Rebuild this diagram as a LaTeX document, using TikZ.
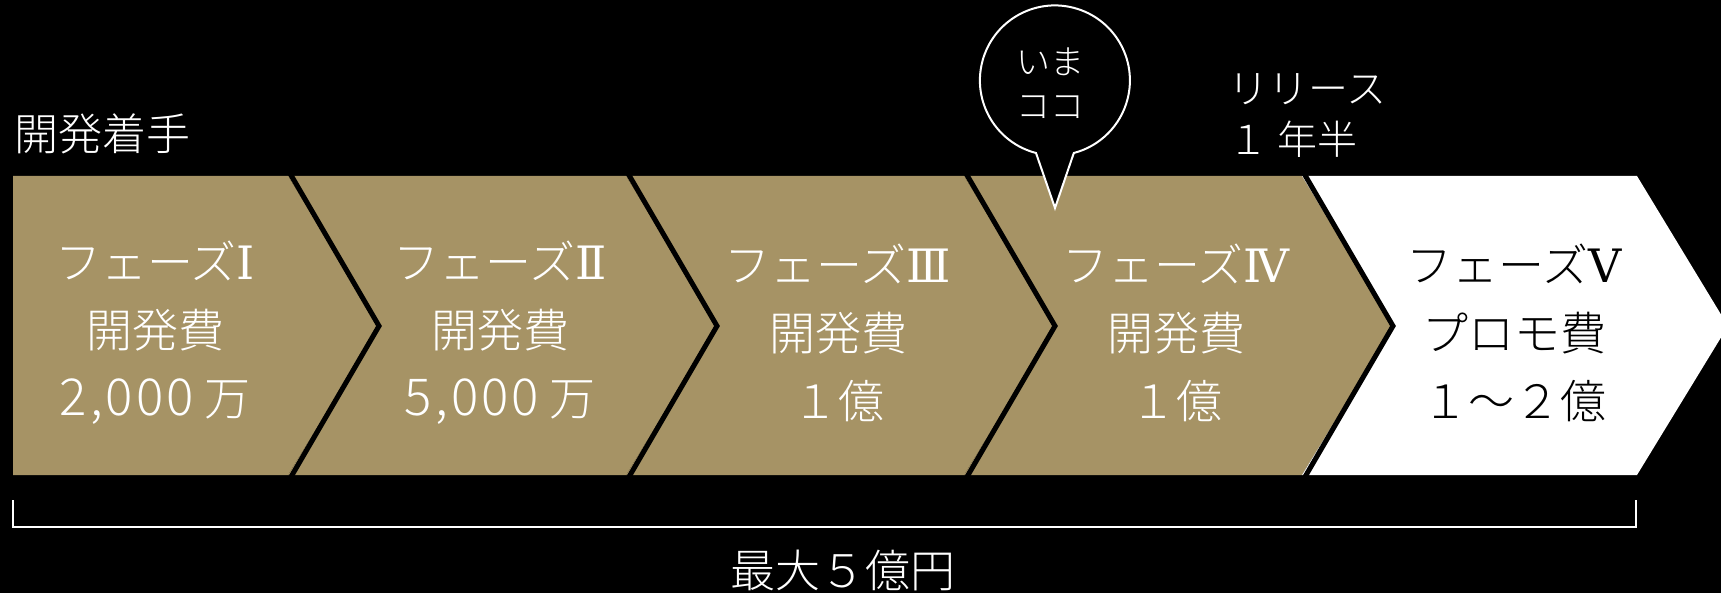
\documentclass[tikz,border=0pt]{standalone}
\usepackage{fontspec}
\IfFontExistsTF{Noto Sans CJK JP Light}{\setmainfont{Noto Sans CJK JP Light}}{\setmainfont{Noto Sans CJK JP}}
\newfontfamily\romfont{DejaVu Serif}
\definecolor{gold}{RGB}{166,147,101}
\newcommand{\dig}[1]{{\fontsize{51}{68}\selectfont\addfontfeature{LetterSpace=6}#1}}
\begin{document}
\begin{tikzpicture}[x=1pt,y=1pt,
  lbl/.style={inner sep=0pt, align=center, font=\fontsize{46}{68}\selectfont},
  sep/.style={black, line width=5pt},
  toplbl/.style={inner sep=0pt, align=left, text=white}]
\fill[black] (0,0) rectangle (1721,-593);
\useasboundingbox (0,0) rectangle (1721,-593);
% chevrons
\fill[gold] (13,-176) -- (288,-176) -- (379,-326) -- (288,-475) -- (13,-475) -- cycle;
\foreach \x in {288,626,964} {
  \fill[gold] (\x,-176) -- (\x+338,-176) -- (\x+429,-326) -- (\x+338,-475) -- (\x,-475) -- (\x+91,-326) -- cycle;
}
\fill[white] (1302,-176) -- (1637,-176) -- (1728,-326) -- (1637,-475) -- (1302,-475) -- (1393,-326) -- cycle;
\foreach \x in {288,626,964,1302} {
  \draw[sep] (\x,-170) -- (\x+91,-326) -- (\x,-482);
}
% texts
\node[lbl, text=white] (p1) at (155,-333) {フェーズ{\romfont Ⅰ}\\開発費\\\dig{2,000} 万};
\node[lbl, text=white] (p2) at (500,-333) {フェーズ{\romfont Ⅱ}\\開発費\\\dig{5,000} 万};
\node[lbl, text=white] (p3) at (838,-333) {フェーズ{\romfont Ⅲ}\\開発費\\１億};
\node[lbl, text=white] (p4) at (1176,-333) {フェーズ{\romfont Ⅳ}\\開発費\\１億};
\node[lbl, text=black] (p5) at (1514,-333) {フェーズ{\romfont Ⅴ}\\プロモ費\\１～２億};
% bubble
\draw[white, line width=2pt, fill=black] (1055,-208) -- (1036,-153) arc[start angle=255.4, end angle=-75.4, radius=75] -- cycle;
\node[inner sep=0pt, align=center, text=white, font=\fontsize{34}{44}\selectfont] (now) at (1050,-83) {いま\\ココ};
% top labels
\node[toplbl, anchor=west, font=\fontsize{40}{51}\selectfont] (rel) at (1228,-116) {リリース\\１ 年半};
\node[toplbl, anchor=west, font=\fontsize{44}{50}\selectfont] (start) at (14,-134) {開発着手};
% bracket
\coordinate (bl) at (13,-500);
\coordinate (br) at (1636,-500);
\draw[white, line width=2pt] (bl) -- ++(0,-27) -| (br);
\node[inner sep=0pt, text=white, font=\fontsize{45}{50}\selectfont] (total) at (843,-570) {最大５億円};
\end{tikzpicture}
\end{document}
